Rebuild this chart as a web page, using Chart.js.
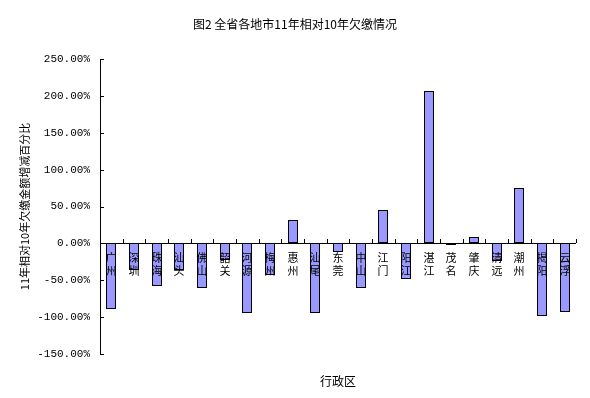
<!DOCTYPE html>
<html>
<head>
<meta charset="utf-8">
<script src="https://cdn.jsdelivr.net/npm/chart.js@4/dist/chart.umd.min.js"></script>
<style>
  html, body { margin: 0; padding: 0; background: #fff; }
  #wrap { width: 590px; height: 398px; }
</style>
</head>
<body>
<div id="wrap"><canvas id="chart" width="590" height="398"></canvas></div>
<script>
const chartTitle = '图2 全省各地市11年相对10年欠缴情况';
const xTitle = '行政区';
const yTitle = '11年相对10年欠缴金额增减百分比';
const regions = ['广州', '深圳', '珠海', '汕头', '佛山', '韶关', '河源', '梅州', '惠州', '汕尾', '东莞',
  '中山', '江门', '阳江', '湛江', '茂名', '肇庆', '清远', '潮州', '揭阳', '云浮'];
const changePct = [-89.6, -36.2, -58.4, -36.6, -61, -23, -95, -43, 31.3, -95, -11.8,
  -61, 44.9, -49, 206.8, -2.3, 8.2, -24.4, 74.8, -99, -93.7];
const yMin = -150, yMax = 250, yStep = 50;

const cjkFont = '"Noto Sans CJK SC", "Noto Sans", sans-serif';

// snap bars to whole pixels so the thin black outlines stay crisp
const crispBars = {
  id: 'crispBars',
  beforeDatasetsDraw(chart) {
    chart.getDatasetMeta(0).data.forEach(bar => {
      bar.x = Math.round(bar.x);
      bar.y = Math.round(bar.y);
      bar.base = Math.round(bar.base);
    });
  }
};

// zero line, inward tick marks and the stacked category labels
const axisDecor = {
  id: 'axisDecor',
  afterDatasetsDraw(chart) {
    const { ctx, chartArea } = chart;
    const xs = chart.scales.x, ys = chart.scales.y;
    const y0 = Math.round(ys.getPixelForValue(0));
    ctx.save();
    ctx.strokeStyle = '#000';
    ctx.lineWidth = 1;
    ctx.beginPath();
    ctx.moveTo(chartArea.left, y0 + 0.5);
    ctx.lineTo(chartArea.right, y0 + 0.5);
    for (let i = 0; i <= regions.length; i++) {
      const x = Math.round(xs.getPixelForValue(i - 0.5)) + 0.5;
      ctx.moveTo(x, y0);
      ctx.lineTo(x, y0 - 4);
    }
    ys.ticks.forEach(t => {
      const y = Math.round(ys.getPixelForValue(t.value)) + 0.5;
      ctx.moveTo(chartArea.left, y);
      ctx.lineTo(chartArea.left + 4, y);
    });
    ctx.stroke();

    ctx.fillStyle = '#000';
    ctx.font = '11px ' + cjkFont;
    ctx.textAlign = 'center';
    ctx.textBaseline = 'middle';
    regions.forEach((name, i) => {
      const x = Math.round(xs.getPixelForValue(i));
      [...name].forEach((ch, k) => {
        ctx.fillText(ch, x, y0 + 15 + k * 13);
      });
    });
    ctx.restore();
  }
};

new Chart(document.getElementById('chart'), {
  type: 'bar',
  data: {
    labels: regions,
    datasets: [{
      data: changePct,
      backgroundColor: '#9999ff',
      borderColor: '#000',
      borderWidth: 1,
      borderSkipped: false,
      inflateAmount: 0,
      barThickness: 10
    }]
  },
  options: {
    responsive: false,
    animation: false,
    layout: { padding: { left: 14, right: 14, top: 0, bottom: 0 } },
    plugins: {
      legend: { display: false },
      tooltip: { enabled: false },
      title: {
        display: true,
        text: chartTitle,
        color: '#000',
        font: { family: cjkFont, size: 12, weight: 'normal' },
        padding: { top: 17, bottom: 28 }
      }
    },
    scales: {
      x: {
        grid: { display: false },
        border: { display: false },
        ticks: { display: false },
        title: {
          display: true,
          text: xTitle,
          color: '#000',
          font: { family: cjkFont, size: 12 },
          padding: { top: 13, bottom: 9 }
        }
      },
      y: {
        min: yMin,
        max: yMax,
        afterFit(scale) { scale.width = 86; },
        grid: { display: false, drawTicks: false },
        border: { display: true, color: '#000', width: 1 },
        ticks: {
          stepSize: yStep,
          padding: 10,
          color: '#000',
          font: { family: '"Liberation Mono", "DejaVu Sans Mono", monospace', size: 11 },
          callback: v => v.toFixed(2) + '%'
        },
        title: {
          display: true,
          text: yTitle,
          color: '#000',
          font: { family: cjkFont, size: 11 },
          padding: { top: 4, bottom: 4 }
        }
      }
    }
  },
  plugins: [crispBars, axisDecor]
});
</script>
</body>
</html>
